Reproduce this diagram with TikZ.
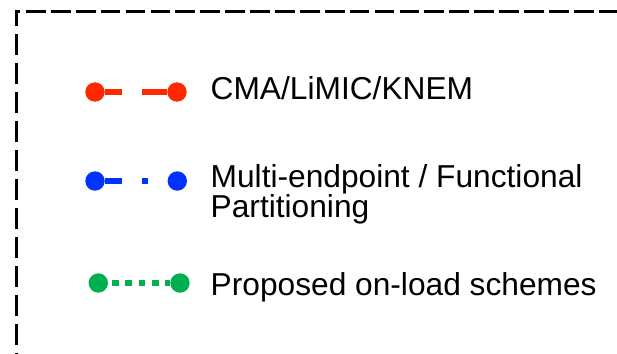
\documentclass[tikz,border=0pt]{standalone}
\usepackage{fontspec}
\setmainfont{Liberation Sans}
\definecolor{legred}{RGB}{255,40,0}
\definecolor{legblue}{RGB}{0,51,255}
\definecolor{leggreen}{RGB}{0,176,80}
\tikzset{
  frameline/.style={line width=3pt, black},
  endcap/.style={circle, inner sep=0pt, minimum size=19.4pt, draw=none},
  legline/.style={line width=6.6pt, line cap=butt},
  legtext/.style={anchor=base west, inner sep=0pt, align=left,
    font=\fontsize{31.7pt}{30pt}\selectfont},
}
\begin{document}
\begin{tikzpicture}[x=1pt, y=-1pt]
  \useasboundingbox (0,0) rectangle (617,353);

  % dashed frame (open to the right and bottom)
  \draw[frameline] (16,26) -- (16,11.5) -- (19.5,11.5);
  \draw[frameline, dash pattern=on 19.7pt off 5.2pt] (26,11.5) -- (640,11.5);
  \draw[frameline, dash pattern=on 21pt off 8pt] (16,34) -- (16,380);

  % legend entry 1: long dashes
  \node[endcap, fill=legred] (r1) at (95,92) {};
  \node[endcap, fill=legred] (r2) at (177,92) {};
  \draw[legline, legred, dash pattern=on 17pt off 20.3pt on 40pt off 1pt] (r1) -- (r2);
  \node[legtext] (t1) at (210.5,99) {CMA/LiMIC/KNEM};

  % legend entry 2: dash-dot
  \node[endcap, fill=legblue] (b1) at (95,181) {};
  \node[endcap, fill=legblue] (b2) at (177.3,181) {};
  \draw[legline, legblue, dash pattern=on 17pt off 20.3pt on 6pt off 40pt] (b1) -- (b2);
  \node[legtext] (t2) at (210.5,217) {Multi-endpoint / Functional\\Partitioning};

  % legend entry 3: dotted
  \node[endcap, fill=leggreen] (g1) at (98.3,283) {};
  \node[endcap, fill=leggreen] (g2) at (180,283) {};
  \draw[legline, leggreen, dash pattern=on 6.67pt off 6.67pt, dash phase=9.6pt] (g1) -- (g2);
  \node[legtext] (t3) at (210.5,295) {Proposed on-load schemes};
\end{tikzpicture}
\end{document}
